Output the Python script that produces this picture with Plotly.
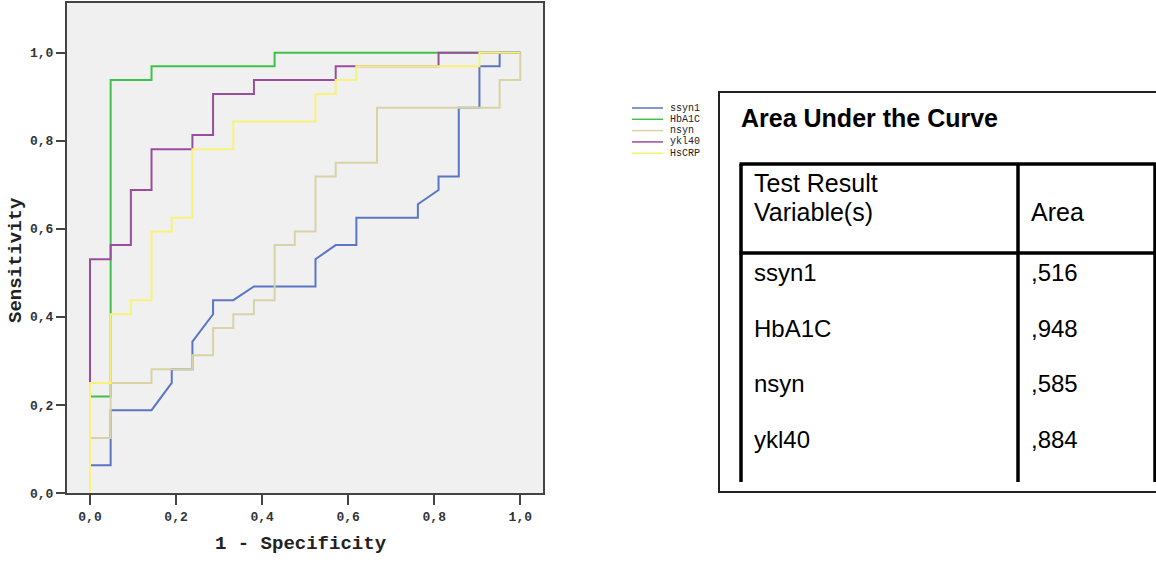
import plotly.graph_objects as go

# ---------------- data ----------------
series_names = ["ssyn1", "HbA1C", "nsyn", "ykl40", "HsCRP"]
series_colors = ["#5a76c6", "#3fc247", "#d8d3a6", "#9b4d9d", "#f7f27a"]

ssyn1_fpr = [0, 0, 0.048, 0.048, 0.143, 0.190, 0.190, 0.238, 0.238, 0.286, 0.286, 0.333, 0.381, 0.524, 0.524,
             0.571, 0.619, 0.619, 0.762, 0.762, 0.810, 0.810, 0.857, 0.857, 0.905, 0.905, 0.952, 0.952, 1.0]
ssyn1_tpr = [0, 0.063, 0.063, 0.188, 0.188, 0.250, 0.281, 0.281, 0.344, 0.406, 0.438, 0.438, 0.469, 0.469, 0.531,
             0.563, 0.563, 0.625, 0.625, 0.656, 0.688, 0.719, 0.719, 0.875, 0.875, 0.969, 0.969, 1.0, 1.0]

hba1c_fpr = [0, 0, 0.048, 0.048, 0.143, 0.143, 0.429, 0.429, 1.0]
hba1c_tpr = [0, 0.219, 0.219, 0.938, 0.938, 0.969, 0.969, 1.0, 1.0]

nsyn_fpr = [0, 0, 0.048, 0.048, 0.143, 0.143, 0.238, 0.238, 0.286, 0.286, 0.333, 0.333, 0.381, 0.381, 0.429,
            0.429, 0.476, 0.476, 0.524, 0.524, 0.571, 0.571, 0.667, 0.667, 0.952, 0.952, 1.0, 1.0]
nsyn_tpr = [0, 0.125, 0.125, 0.25, 0.25, 0.281, 0.281, 0.313, 0.313, 0.375, 0.375, 0.406, 0.406, 0.438, 0.438,
            0.563, 0.563, 0.594, 0.594, 0.719, 0.719, 0.75, 0.75, 0.875, 0.875, 0.938, 0.938, 1.0]

ykl40_fpr = [0, 0, 0.048, 0.048, 0.095, 0.095, 0.143, 0.143, 0.238, 0.238, 0.286, 0.286, 0.381, 0.381,
             0.571, 0.571, 0.810, 0.810, 1.0]
ykl40_tpr = [0, 0.531, 0.531, 0.563, 0.563, 0.688, 0.688, 0.781, 0.781, 0.813, 0.813, 0.906, 0.906, 0.938,
             0.938, 0.969, 0.969, 1.0, 1.0]

hscrp_fpr = [0, 0, 0.048, 0.048, 0.095, 0.095, 0.143, 0.143, 0.190, 0.190, 0.238, 0.238, 0.333, 0.333,
             0.524, 0.524, 0.571, 0.571, 0.619, 0.619, 0.905, 0.905, 1.0]
hscrp_tpr = [0, 0.25, 0.25, 0.406, 0.406, 0.438, 0.438, 0.594, 0.594, 0.625, 0.625, 0.781, 0.781, 0.844,
             0.844, 0.906, 0.906, 0.938, 0.938, 0.969, 0.969, 1.0, 1.0]

tick_vals = [0.0, 0.2, 0.4, 0.6, 0.8, 1.0]
tick_text = ["0,0", "0,2", "0,4", "0,6", "0,8", "1,0"]

x_title = "1 - Specificity"
y_title = "Sensitivity"

table_title = "Area Under the Curve"
table_header = ["Test Result", "Variable(s)", "Area"]
table_vars = ["ssyn1", "HbA1C", "nsyn", "ykl40"]
table_areas = [",516", ",948", ",585", ",884"]

# ---------------- layout helpers ----------------
W, H = 1156, 563
PL, PR, PT, PB = 67, 543, 3, 493


def px(x):
    return (x - PL) / (PR - PL)


def py(y):
    return (PB - y) / (PB - PT)


curves = [(ssyn1_fpr, ssyn1_tpr), (hba1c_fpr, hba1c_tpr), (nsyn_fpr, nsyn_tpr),
          (ykl40_fpr, ykl40_tpr), (hscrp_fpr, hscrp_tpr)]

fig = go.Figure()
for name, col, (fx, ty) in zip(series_names, series_colors, curves):
    fig.add_trace(go.Scatter(x=fx, y=ty, mode="lines", name=name,
                             line=dict(color=col, width=2), showlegend=False))

mono = "Liberation Mono"
shapes = []
annotations = []

# custom compact legend
leg_y0 = 108
leg_step = 11.3
for i, (name, col) in enumerate(zip(series_names, series_colors)):
    yy = leg_y0 + i * leg_step
    shapes.append(dict(type="line", xref="paper", yref="paper",
                       x0=px(632), x1=px(663), y0=py(yy), y1=py(yy),
                       line=dict(color=col, width=1.5)))
    annotations.append(dict(xref="paper", yref="paper", x=px(668), y=py(yy),
                            text=name, showarrow=False, xanchor="left", yanchor="middle",
                            font=dict(family=mono, size=10, color="#222")))

# axis titles
annotations.append(dict(xref="paper", yref="paper", x=px(301), y=py(544), text="<b>%s</b>" % x_title,
                        showarrow=False, xanchor="center", yanchor="middle",
                        font=dict(family=mono, size=19, color="#222")))
annotations.append(dict(xref="paper", yref="paper", x=px(16), y=py(260), text="<b>%s</b>" % y_title,
                        showarrow=False, xanchor="center", yanchor="middle", textangle=-90,
                        font=dict(family=mono, size=19, color="#222")))

# table (outer box)
shapes.append(dict(type="rect", xref="paper", yref="paper",
                   x0=px(719), x1=px(1170), y0=py(92), y1=py(492),
                   line=dict(color="#222", width=2), fillcolor="rgba(0,0,0,0)"))
# inner thick lines
thick = dict(color="#000", width=3.5)
shapes.append(dict(type="line", xref="paper", yref="paper", x0=px(739.5), x1=px(1170),
                   y0=py(164), y1=py(164), line=thick))
shapes.append(dict(type="line", xref="paper", yref="paper", x0=px(739.5), x1=px(1170),
                   y0=py(253), y1=py(253), line=thick))
for vx in [741, 1018, 1155]:
    shapes.append(dict(type="line", xref="paper", yref="paper", x0=px(vx), x1=px(vx),
                       y0=py(164), y1=py(482), line=thick))

sans = "Liberation Sans"
annotations.append(dict(xref="paper", yref="paper", x=px(739), y=py(118), text="<b>%s</b>" % table_title,
                        showarrow=False, xanchor="left", yanchor="middle",
                        font=dict(family=sans, size=25, color="#000")))
annotations.append(dict(xref="paper", yref="paper", x=px(752), y=py(183), text=table_header[0],
                        showarrow=False, xanchor="left", yanchor="middle",
                        font=dict(family=sans, size=25, color="#000")))
annotations.append(dict(xref="paper", yref="paper", x=px(752), y=py(212), text=table_header[1],
                        showarrow=False, xanchor="left", yanchor="middle",
                        font=dict(family=sans, size=25, color="#000")))
annotations.append(dict(xref="paper", yref="paper", x=px(1029), y=py(212), text=table_header[2],
                        showarrow=False, xanchor="left", yanchor="middle",
                        font=dict(family=sans, size=25, color="#000")))
row_y0 = 272.5
row_step = 55.5
for i, (v, a) in enumerate(zip(table_vars, table_areas)):
    yy = row_y0 + i * row_step
    annotations.append(dict(xref="paper", yref="paper", x=px(752), y=py(yy), text=v,
                            showarrow=False, xanchor="left", yanchor="middle",
                            font=dict(family=sans, size=24, color="#000")))
    annotations.append(dict(xref="paper", yref="paper", x=px(1029), y=py(yy), text=a,
                            showarrow=False, xanchor="left", yanchor="middle",
                            font=dict(family=sans, size=24, color="#000")))

x0_px, x1_px = 90.0, 520.3
y0_px, y1_px = 493.0, 52.7
xr = [(PL - x0_px) / (x1_px - x0_px), (PR - x0_px) / (x1_px - x0_px)]
yr = [(y0_px - PB) / (y0_px - y1_px), (y0_px - PT) / (y0_px - y1_px)]

axis_common = dict(showgrid=False, zeroline=False, showline=True, mirror=True,
                   linecolor="#444", linewidth=2, ticks="outside", tickcolor="#444",
                   tickwidth=2, tickvals=tick_vals, ticktext=tick_text,
                   tickfont=dict(family=mono, size=13, color="#333", weight="bold"))

fig.update_layout(
    width=W, height=H,
    margin=dict(l=PL, r=W - PR, t=PT, b=H - PB, autoexpand=False),
    paper_bgcolor="white", plot_bgcolor="#f0f0f0",
    xaxis=dict(range=xr, ticklen=10, **axis_common),
    yaxis=dict(range=yr, ticklen=9, **axis_common),
    shapes=shapes, annotations=annotations,
    showlegend=False,
)

fig.write_html("out.html")
